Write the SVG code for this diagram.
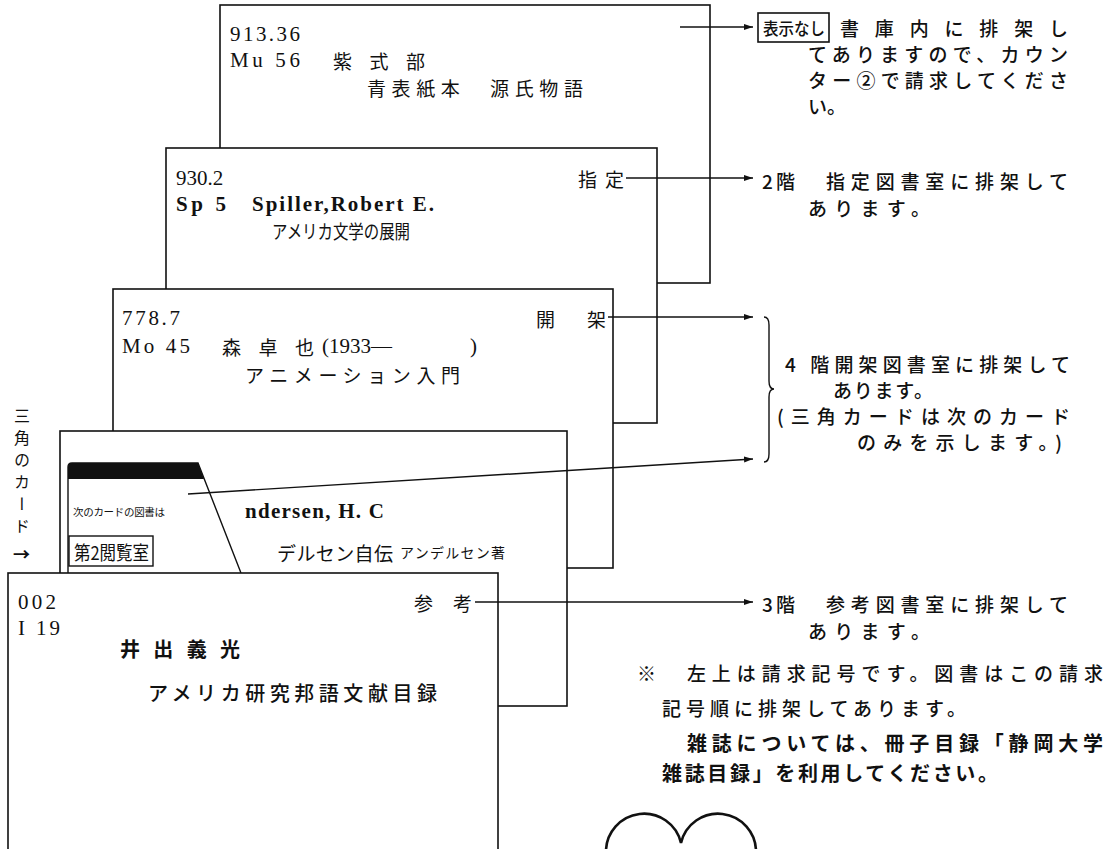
<svg xmlns="http://www.w3.org/2000/svg" width="1117" height="849" viewBox="0 0 1117 849">
<style>
.card{fill:#fff;stroke:#111;stroke-width:1.6}
.ln{fill:none;stroke:#111;stroke-width:1.4}
.lat{font-family:"Liberation Serif","Noto Sans CJK JP",serif;font-size:21px;fill:#111;dominant-baseline:central}
.latb{font-family:"Liberation Serif","Noto Sans CJK JP",serif;font-size:21px;font-weight:bold;fill:#111;dominant-baseline:central}
.jp{font-family:"Noto Sans CJK JP","Liberation Sans",sans-serif;font-size:19px;fill:#111;dominant-baseline:central}
.jr{font-family:"Noto Sans CJK JP","Liberation Sans",sans-serif;font-size:19px;font-weight:500;fill:#111;dominant-baseline:central}
.jb{font-family:"Noto Sans CJK JP","Liberation Sans",sans-serif;font-size:20px;font-weight:bold;fill:#111;dominant-baseline:central}
.js{font-family:"Noto Sans CJK JP","Liberation Sans",sans-serif;font-size:10.5px;fill:#111;dominant-baseline:central}
.jm{font-family:"Noto Sans CJK JP","Liberation Sans",sans-serif;font-size:14px;fill:#111;dominant-baseline:central}
</style>
<defs>
<marker id="ah" markerWidth="10" markerHeight="8" refX="9" refY="4" orient="auto" markerUnits="userSpaceOnUse">
<path d="M0,1 L9,4 L0,7 Z" fill="#111"/>
</marker>
</defs>
<rect width="1117" height="849" fill="#fff"/>

<g id="card1">
<rect class="card" x="220" y="5" width="490" height="278"/>
<text class="lat" x="230" y="34" textLength="70" lengthAdjust="spacing">913.36</text>
<text class="lat" x="230" y="60" textLength="70" lengthAdjust="spacing">Mu 56</text>
<text class="jp" x="333" y="60" textLength="92" lengthAdjust="spacing">紫 式 部</text>
<text class="jp" x="367" y="87" textLength="216" lengthAdjust="spacing">青表紙本　源氏物語</text>
</g>

<g id="card2">
<rect class="card" x="166" y="148" width="491" height="275"/>
<text class="lat" x="176" y="178">930.2</text>
<text class="jp" x="578" y="178" textLength="46" lengthAdjust="spacing">指 定</text>
<text class="latb" x="176" y="204" textLength="50" lengthAdjust="spacing">Sp 5</text>
<text class="latb" x="252" y="204" textLength="182" lengthAdjust="spacing">Spiller,Robert E.</text>
<text class="jp" x="272" y="230" textLength="138" lengthAdjust="spacingAndGlyphs">アメリカ文学の展開</text>
</g>

<g id="card3">
<rect class="card" x="113" y="289" width="500" height="279"/>
<text class="lat" x="122" y="318" textLength="58" lengthAdjust="spacing">778.7</text>
<text class="jp" x="536" y="318" textLength="70" lengthAdjust="spacing">開 架</text>
<text class="lat" x="122" y="346" textLength="68" lengthAdjust="spacing">Mo 45</text>
<text class="jp" x="222" y="346" textLength="92" lengthAdjust="spacing">森 卓 也</text>
<text class="lat" x="322" y="346">(1933―</text>
<text class="lat" x="470" y="346">)</text>
<text class="jp" x="245" y="374" textLength="215" lengthAdjust="spacing">アニメーション入門</text>
</g>

<g id="card4">
<rect class="card" x="60" y="431" width="507" height="275"/>
<path d="M68,573 L68,467 Q68,463 72,463 L198,463 L241,573" class="ln"/>
<path d="M68,467 Q68,463 72,463 L198,463 L204,479 L68,479 Z" fill="#111"/>
<text class="js" x="73" y="511" textLength="92" lengthAdjust="spacing">次のカードの図書は</text>
<rect x="69" y="536" width="84" height="30" fill="none" stroke="#111" stroke-width="1.4"/>
<text class="jp" x="74" y="551" textLength="75" lengthAdjust="spacingAndGlyphs">第2閲覧室</text>
<text class="latb" x="245" y="511" textLength="139" lengthAdjust="spacing">ndersen, H. C</text>
<text class="jp" x="277" y="552" textLength="116" lengthAdjust="spacing">デルセン自伝</text>
<text class="jm" x="400" y="552" textLength="105" lengthAdjust="spacing">アンデルセン著</text>
</g>

<g id="card5">
<rect class="card" x="8" y="573" width="490" height="290"/>
<text class="lat" x="18" y="602" textLength="38" lengthAdjust="spacing">002</text>
<text class="jp" x="414" y="602" textLength="58" lengthAdjust="spacing">参 考</text>
<text class="lat" x="18" y="628" textLength="42" lengthAdjust="spacing">I 19</text>
<text class="jb" x="120" y="648" textLength="120" lengthAdjust="spacing">井 出 義 光</text>
<text class="jr" x="148" y="692" style="font-size:20px" textLength="289" lengthAdjust="spacing">アメリカ研究邦語文献目録</text>
</g>

<g id="side-label">
<text class="jp" x="22" y="408" style="font-size:16px;writing-mode:vertical-rl;dominant-baseline:auto" letter-spacing="6">三角のカード</text>
<text class="jb" x="13" y="553" style="font-size:17px">→</text>
</g>

<g id="connectors">
<line class="ln" x1="680" y1="27" x2="753" y2="27" marker-end="url(#ah)"/>
<line class="ln" x1="626" y1="178" x2="753" y2="178" marker-end="url(#ah)"/>
<line class="ln" x1="608" y1="317" x2="753" y2="317" marker-end="url(#ah)"/>
<line class="ln" x1="188" y1="494" x2="753" y2="459" marker-end="url(#ah)"/>
<line class="ln" x1="475" y1="602" x2="753" y2="602" marker-end="url(#ah)"/>
<path class="ln" d="M764,317 Q769,317 769,325 L769,381 Q769,389 774,389 Q769,389 769,397 L769,454 Q769,462 764,462"/>
</g>

<g id="note-shoko">
<rect x="758" y="13" width="71" height="29" fill="none" stroke="#111" stroke-width="1.6"/>
<text class="jr" x="763" y="27" style="font-size:17px" textLength="62" lengthAdjust="spacingAndGlyphs">表示なし</text>
<text class="jr" x="840" y="27" textLength="228" lengthAdjust="spacing">書庫内に排架し</text>
<text class="jr" x="808" y="53" textLength="260" lengthAdjust="spacing">てありますので、カウン</text>
<text class="jr" x="808" y="79" textLength="260" lengthAdjust="spacing">ター②で請求してくださ</text>
<text class="jr" x="808" y="105">い。</text>
</g>

<g id="note-shitei">
<text class="jr" x="762" y="180" textLength="33" lengthAdjust="spacing">2階</text>
<text class="jr" x="826" y="180" textLength="242" lengthAdjust="spacing">指定図書室に排架して</text>
<text class="jr" x="808" y="207" textLength="122" lengthAdjust="spacing">あります。</text>
</g>

<g id="note-kaika">
<text class="jr" x="785" y="363" textLength="285" lengthAdjust="spacing">4 階開架図書室に排架して</text>
<text class="jr" x="833" y="389" textLength="100" lengthAdjust="spacing">あります。</text>
<text class="jr" x="777" y="415" textLength="293" lengthAdjust="spacing">(三角カードは次のカード</text>
<text class="jr" x="857" y="441" textLength="205" lengthAdjust="spacing">のみを示します。)</text>
</g>

<g id="note-sanko">
<text class="jr" x="762" y="603" textLength="33" lengthAdjust="spacing">3階</text>
<text class="jr" x="826" y="603" textLength="242" lengthAdjust="spacing">参考図書室に排架して</text>
<text class="jr" x="808" y="630" textLength="122" lengthAdjust="spacing">あります。</text>
</g>

<g id="note-general">
<text class="jr" x="637" y="672" textLength="466" lengthAdjust="spacing">※　左上は請求記号です。図書はこの請求</text>
<text class="jr" x="662" y="707" textLength="304" lengthAdjust="spacing">記号順に排架してあります。</text>
<text class="jb" x="687" y="742" textLength="416" lengthAdjust="spacing">雑誌については、冊子目録「静岡大学</text>
<text class="jb" x="662" y="772" textLength="336" lengthAdjust="spacing">雑誌目録」を利用してください。</text>
</g>

<path d="M606,852 A38,38 0 0 1 681,843 A38,38 0 0 1 756,852" fill="none" stroke="#111" stroke-width="2.6"/>
</svg>
